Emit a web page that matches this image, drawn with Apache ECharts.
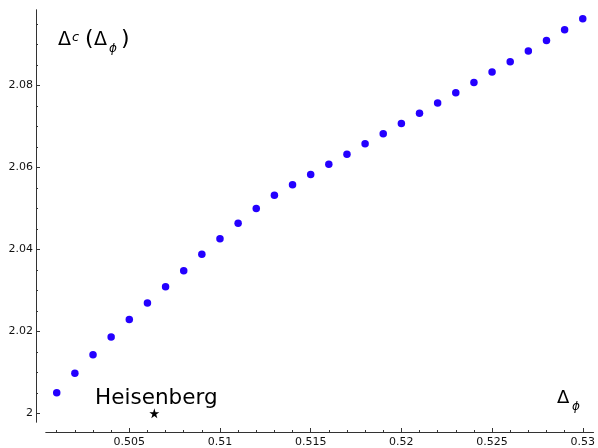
<!DOCTYPE html>
<html>
<head>
<meta charset="utf-8">
<script src="https://cdn.jsdelivr.net/npm/echarts@6/dist/echarts.min.js"></script>
<style>
  html, body { margin: 0; padding: 0; background: #fff; }
  #chart { width: 598px; height: 448px; }
</style>
</head>
<body>
<div id="chart"></div>
<script>
// Critical dimension as a function of the external dimension
const deltaPhi = [
  0.501, 0.502, 0.503, 0.504, 0.505, 0.506, 0.507, 0.508, 0.509, 0.510,
  0.511, 0.512, 0.513, 0.514, 0.515, 0.516, 0.517, 0.518, 0.519, 0.520,
  0.521, 0.522, 0.523, 0.524, 0.525, 0.526, 0.527, 0.528, 0.529, 0.530
];
const deltaC = [
  2.0050, 2.0098, 2.0143, 2.0186, 2.0229, 2.0269, 2.0309, 2.0348, 2.0388, 2.0426,
  2.0464, 2.0500, 2.0532, 2.0558, 2.0583, 2.0608, 2.0632, 2.0658, 2.0682, 2.0707,
  2.0732, 2.0757, 2.0782, 2.0807, 2.0833, 2.0858, 2.0884, 2.0910, 2.0936, 2.0963
];
// Heisenberg reference point
const heisenberg = [0.50638, 2.0];

const xMajorTicks = [0.505, 0.51, 0.515, 0.52, 0.525, 0.53];
const xMinorTicks = [];
for (let i = 501; i <= 530; i++) if (i % 5 !== 0) xMinorTicks.push(i / 1000);
const yMajorTicks = [2, 2.02, 2.04, 2.06, 2.08];
const yMinorTicks = [];
for (let i = 400; i <= 419; i++) if (i % 4 !== 0) yMinorTicks.push(i / 200);

const xRange = [0.500408, 0.530585];
const yRange = [1.99788, 2.09842];

const fmt = v => String(parseFloat(Number(v).toFixed(4)));
const axisColor = '#333';
const labelFont = { fontFamily: 'DejaVu Sans', fontSize: 11, color: '#111' };

function xAxis(ticks, len, labels) {
  return {
    type: 'value', min: xRange[0], max: xRange[1], position: 'bottom', offset: 10,
    axisLine: { show: true, onZero: false, lineStyle: { color: axisColor, width: 1 } },
    axisTick: { show: true, inside: true, length: len, customValues: ticks, lineStyle: { color: axisColor } },
    axisLabel: labels ? Object.assign({ show: true, margin: 5, customValues: ticks, formatter: fmt }, labelFont) : { show: false },
    splitLine: { show: false }
  };
}
function yAxis(ticks, len, labels) {
  return {
    type: 'value', min: yRange[0], max: yRange[1], position: 'left', offset: 10,
    axisLine: { show: true, onZero: false, lineStyle: { color: axisColor, width: 1 } },
    axisTick: { show: true, inside: true, length: len, customValues: ticks, lineStyle: { color: axisColor } },
    axisLabel: labels ? Object.assign({ show: true, margin: 3, customValues: ticks, formatter: fmt }, labelFont) : { show: false },
    splitLine: { show: false }
  };
}

const starPath = 'path://M50,0 L61,35 L98,35 L68,57 L79,91 L50,70 L21,91 L32,57 L2,35 L39,35 Z';

const chart = echarts.init(document.getElementById('chart'), null, { renderer: 'canvas' });
chart.setOption({
  animation: false,
  grid: { left: 46, right: 0, top: 10, bottom: 25 },
  xAxis: [xAxis(xMajorTicks, 4, true), xAxis(xMinorTicks, 2, false)],
  yAxis: [yAxis(yMajorTicks, 4, true), yAxis(yMinorTicks, 2, false)],
  series: [
    {
      type: 'scatter',
      data: deltaPhi.map((x, i) => [x, deltaC[i]]),
      symbol: 'circle',
      symbolSize: 7.5,
      itemStyle: { color: '#2400ff', opacity: 1 }
    },
    {
      type: 'scatter',
      data: [heisenberg],
      symbol: starPath,
      symbolSize: 10,
      itemStyle: { color: '#000', opacity: 1 },
      label: {
        show: true, position: 'top', distance: -1, offset: [2, 0],
        formatter: 'Heisenberg',
        fontFamily: 'DejaVu Sans', fontSize: 21.5, color: '#000'
      }
    }
  ],
  graphic: [
    { type: 'text', left: 58, top: 31, style: { text: 'Δ', font: '19px DejaVu Sans', fill: '#000' } },
    { type: 'text', left: 72, top: 31, style: { text: 'c', font: 'italic 13px DejaVu Sans', fill: '#000' } },
    { type: 'text', left: 85, top: 28, style: { text: '(', font: '22px DejaVu Sans', fill: '#000' } },
    { type: 'text', left: 94, top: 31, style: { text: 'Δ', font: '19px DejaVu Sans', fill: '#000' } },
    { type: 'text', left: 109, top: 43, style: { text: 'ϕ', font: 'italic 12px DejaVu Sans', fill: '#000' } },
    { type: 'text', left: 121, top: 28, style: { text: ')', font: '22px DejaVu Sans', fill: '#000' } },
    { type: 'text', left: 557, top: 389, style: { text: 'Δ', font: '18px DejaVu Sans', fill: '#000' } },
    { type: 'text', left: 572, top: 401, style: { text: 'ϕ', font: 'italic 12px DejaVu Sans', fill: '#000' } }
  ]
});
</script>
</body>
</html>
